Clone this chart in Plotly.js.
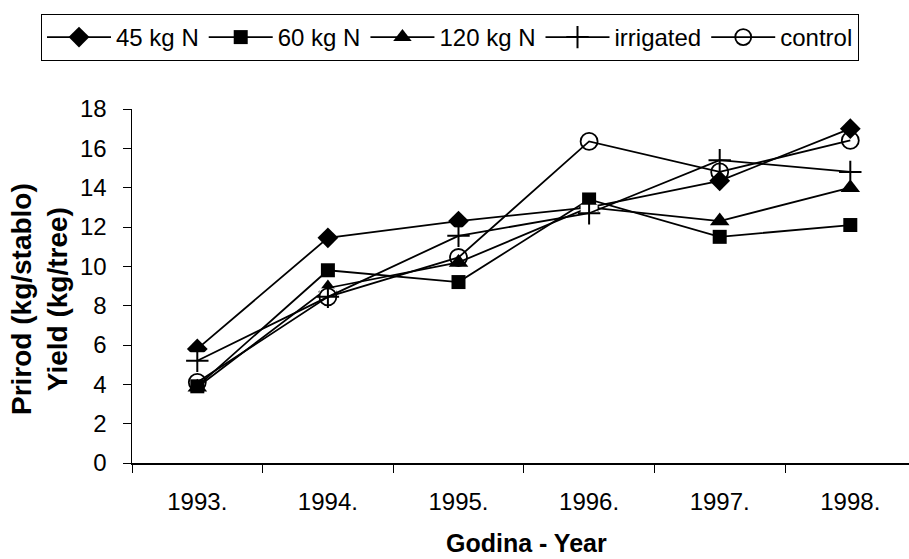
<!DOCTYPE html>
<html>
<head>
<meta charset="utf-8">
<script src="https://cdn.plot.ly/plotly-3.0.1.min.js"></script>
<style>html,body{margin:0;padding:0;background:#fff;}#chart{width:909px;height:559px;}</style>
</head>
<body>
<div id="chart"></div>
<script>
const years = ["1993.", "1994.", "1995.", "1996.", "1997.", "1998."];
const n45 = [5.8, 11.45, 12.3, 13.0, 14.35, 17.0];
const n60 = [3.9, 9.8, 9.2, 13.4, 11.5, 12.1];
const n120 = [3.85, 8.9, 10.2, 13.0, 12.3, 14.0];
const irrigated = [5.2, 8.45, 11.55, 12.7, 15.4, 14.8];
const control = [4.1, 8.45, 10.45, 16.35, 14.8, 16.4];
const seriesNames = ["45 kg N", "60 kg N", "120 kg N", "irrigated", "control"];
const yTicks = [0, 2, 4, 6, 8, 10, 12, 14, 16, 18];

const FONT = "Liberation Sans, Arial, sans-serif";
const lineStyle = {color: "#000", width: 1.8};

const traces = [
  {x: years, y: n45, name: seriesNames[0], mode: "lines+markers", line: lineStyle,
   marker: {symbol: "diamond", size: 16, color: "#000"}},
  {x: years, y: n60, name: seriesNames[1], mode: "lines+markers", line: lineStyle,
   marker: {symbol: "square", size: 14, color: "#000"}},
  {x: years, y: n120, name: seriesNames[2], mode: "lines+markers", line: lineStyle,
   marker: {symbol: "triangle-up", size: 17, color: "#000"}},
  {x: years, y: irrigated, name: "bg", mode: "markers", showlegend: false, hoverinfo: "skip",
   marker: {symbol: "square", size: 17, color: "#fff"}},
  {x: years, y: irrigated, name: seriesNames[3], mode: "lines+markers", line: lineStyle,
   marker: {symbol: "cross-thin", size: 16, color: "#000", line: {color: "#000", width: 2}}},
  {x: years, y: control, name: seriesNames[4], mode: "lines+markers", line: lineStyle,
   marker: {symbol: "circle-open", size: 17, color: "#000", line: {color: "#000", width: 1.8}}}
];

const L = 132, W = 909, T = 109, B = 96;
const plotW = W - L;
const plotH = 559 - T - B;

const layout = {
  width: 909, height: 559,
  margin: {l: L, r: 0, t: T, b: B, pad: 0},
  paper_bgcolor: "#fff", plot_bgcolor: "#fff",
  font: {family: FONT, size: 24, color: "#000"},
  showlegend: true,
  legend: {
    orientation: "h", x: (41 - L) / plotW, xanchor: "left",
    y: (plotH + T - 14) / plotH, yanchor: "top",
    bordercolor: "#000", borderwidth: 1, bgcolor: "#fff",
    font: {family: FONT, size: 24, color: "#000"},
    itemwidth: 64, tracegroupgap: 0
  },
  xaxis: {
    type: "category", range: [-0.5, -0.5 + plotW / 130.6],
    showline: true, linecolor: "#000", linewidth: 1.5,
    ticks: "outside", tickson: "boundaries", ticklen: 8, tickcolor: "#000", tickwidth: 1,
    showgrid: false, zeroline: false, fixedrange: true,
    tickfont: {family: FONT, size: 24, color: "#000"}, ticklabelstandoff: 17
  },
  yaxis: {
    range: [0, 18], tickvals: yTicks, ticktext: yTicks.map(String),
    showline: true, linecolor: "#000", linewidth: 1.5,
    ticks: "outside", ticklen: 8, tickcolor: "#000", tickwidth: 1,
    showgrid: false, zeroline: false, fixedrange: true,
    tickfont: {family: FONT, size: 24, color: "#000"}, ticklabelstandoff: 11
  },
  annotations: [
    {text: "<b>Prirod (kg/stablo)</b><br><b>Yield (kg/tree)</b>", textangle: -90,
     xref: "paper", yref: "paper", x: (39 - L) / plotW, y: (T + plotH - 299) / plotH,
     xanchor: "center", yanchor: "middle", showarrow: false,
     font: {family: FONT, size: 28, color: "#000"}},
    {text: "<b>Godina - Year</b>", xref: "paper", yref: "paper",
     x: (526 - L) / plotW, y: (T + plotH - 543) / plotH,
     xanchor: "center", yanchor: "middle", showarrow: false,
     font: {family: FONT, size: 25, color: "#000"}}
  ]
};

Plotly.newPlot("chart", traces, layout, {displayModeBar: false, staticPlot: true});
</script>
</body>
</html>
